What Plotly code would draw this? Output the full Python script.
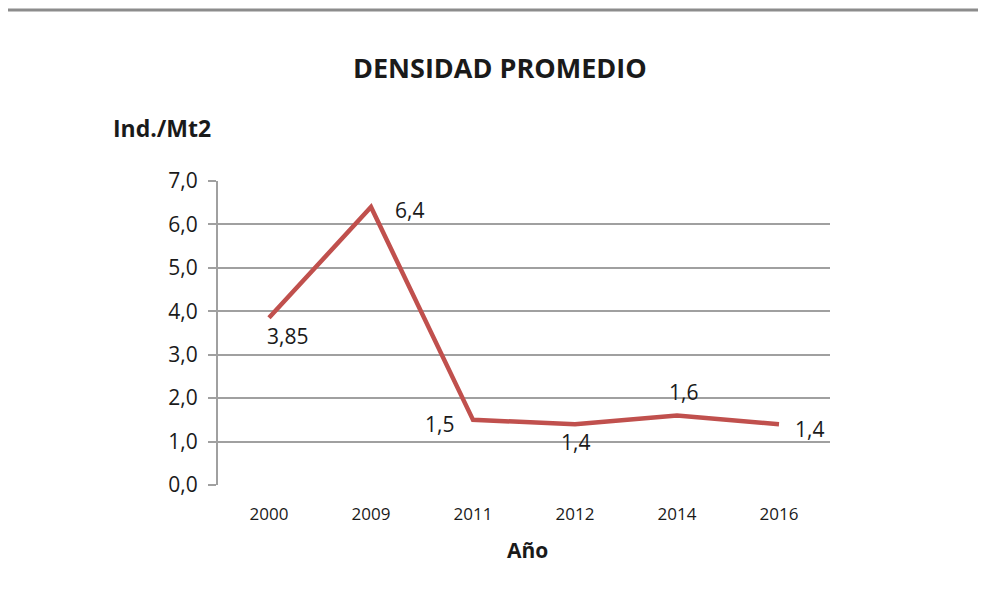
import plotly.graph_objects as go

years = ["2000", "2009", "2011", "2012", "2014", "2016"]
density = [3.85, 6.4, 1.5, 1.4, 1.6, 1.4]
labels = ["3,85", "6,4", "1,5", "1,4", "1,6", "1,4"]
y_ticks = [0, 1, 2, 3, 4, 5, 6, 7]
y_tick_text = ["0,0", "1,0", "2,0", "3,0", "4,0", "5,0", "6,0", "7,0"]

# label offsets (pixels) relative to each point
offsets = [(18, -18), (38, -3), (-34, -4), (0, -18), (6, 24), (30, -5)]

FONT = "Open Sans"
TXT = "#1A1A1A"

fig = go.Figure()
fig.add_trace(go.Scatter(
    x=years, y=density, mode="lines",
    line=dict(color="#C0504D", width=4.5),
    hoverinfo="skip", showlegend=False,
))

for i, (yv, t, (dx, dy)) in enumerate(zip(density, labels, offsets)):
    fig.add_annotation(x=i, y=yv, xref="x", yref="y", text=t, showarrow=False,
                       xanchor="center", yanchor="middle",
                       xshift=dx, yshift=dy,
                       font=dict(family=FONT, size=21, color=TXT))

def px(X):
    return (X - 218) / 612

def py(Y):
    return (485 - Y) / 304

fig.add_annotation(text="<b>DENSIDAD PROMEDIO</b>", xref="paper", yref="paper",
                   x=px(500), y=py(67), showarrow=False,
                   xanchor="center", yanchor="middle",
                   font=dict(family=FONT, size=27, color=TXT))
fig.add_annotation(text="<b>Ind./Mt2</b>", xref="paper", yref="paper",
                   x=px(162), y=py(128), showarrow=False,
                   xanchor="center", yanchor="middle",
                   font=dict(family=FONT, size=23, color=TXT))
fig.add_annotation(text="<b>Año</b>", xref="paper", yref="paper",
                   x=px(527), y=py(550), showarrow=False,
                   xanchor="center", yanchor="middle",
                   font=dict(family=FONT, size=21, color=TXT))

fig.add_shape(type="line", xref="paper", yref="paper",
              x0=px(5), x1=px(992), y0=py(10), y1=py(10),
              line=dict(color="#8C8C8C", width=3))

fig.update_layout(
    width=986, height=599,
    margin=dict(l=210, r=164, t=173, b=122),
    paper_bgcolor="white", plot_bgcolor="white",
    font=dict(family=FONT, color=TXT),
    xaxis=dict(type="category", range=[-0.5, 5.5], showgrid=False,
               showline=False, zeroline=False,
               ticks="", tickfont=dict(family=FONT, size=17, color=TXT),
               ticklabelstandoff=17),
    yaxis=dict(range=[0, 7], tickvals=y_ticks, ticktext=y_tick_text,
               showgrid=True, gridcolor="#A0A0A0", gridwidth=2,
               showline=True, linecolor="#A0A0A0", linewidth=2,
               ticks="outside", ticklen=8, tickcolor="#A0A0A0", tickwidth=2,
               zeroline=False, ticklabelstandoff=6,
               tickfont=dict(family=FONT, size=21, color=TXT)),
)

fig.write_html("out.html")
